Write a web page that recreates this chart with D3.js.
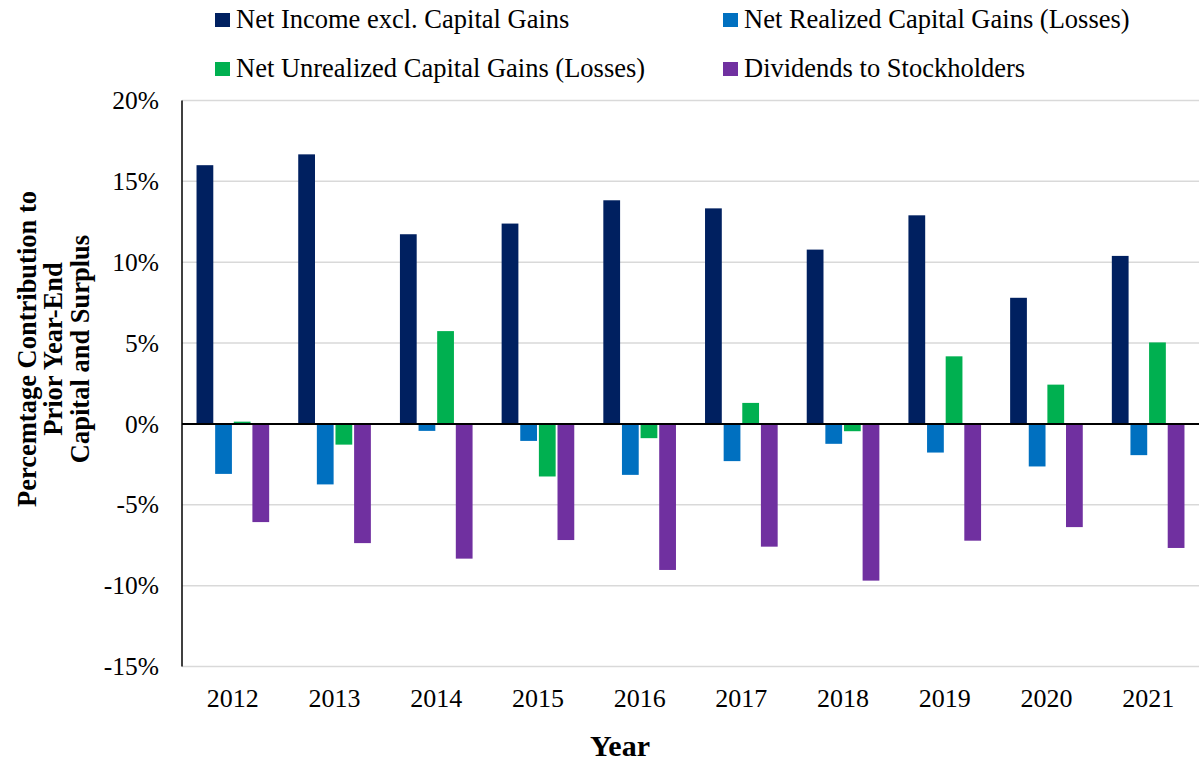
<!DOCTYPE html>
<html>
<head>
<meta charset="utf-8">
<script src="https://cdn.jsdelivr.net/npm/d3@7"></script>
<style>
  body { margin: 0; background: #fff; }
  text { font-family: "Liberation Serif", "Times New Roman", serif; fill: #000; }
</style>
</head>
<body>
<div class="canvas"></div>
<script>
// data (percent)
const years = ["2012", "2013", "2014", "2015", "2016", "2017", "2018", "2019", "2020", "2021"];
const seriesNames = [
  "Net Income excl. Capital Gains",
  "Net Realized Capital Gains (Losses)",
  "Net Unrealized Capital Gains (Losses)",
  "Dividends to Stockholders"
];
const seriesColors = ["#002060", "#0070C0", "#00B050", "#7030A0"];
const netIncome = [16.0, 16.67, 11.73, 12.39, 13.83, 13.33, 10.78, 12.9, 7.8, 10.39];
const realized = [-3.09, -3.74, -0.43, -1.05, -3.15, -2.3, -1.23, -1.77, -2.63, -1.93];
const unrealized = [0.14, -1.28, 5.74, -3.25, -0.88, 1.3, -0.45, 4.18, 2.43, 5.04];
const dividends = [-6.07, -7.37, -8.33, -7.18, -9.03, -7.59, -9.69, -7.22, -6.38, -7.67];
const yTicks = [20, 15, 10, 5, 0, -5, -10, -15];

const allSeries = [netIncome, realized, unrealized, dividends];

const width = 1199, height = 763;
const svg = d3.select(".canvas")
  .append("svg")
  .attr("width", width)
  .attr("height", height);

const plotLeft = 182, plotRight = 1199, plotTop = 100.5, plotBottom = 666.5;

const y = d3.scaleLinear().domain([-15, 20]).range([plotBottom, plotTop]);
const x0 = d3.scaleBand().domain(years).range([plotLeft, plotRight]);
const x1 = d3.scaleBand()
  .domain(d3.range(seriesNames.length))
  .range([0, x0.bandwidth()])
  .paddingInner(0.1)
  .paddingOuter(0.78);

// gridlines
svg.append("g")
  .selectAll("line")
  .data(yTicks)
  .enter()
  .append("line")
  .attr("x1", plotLeft)
  .attr("x2", plotRight)
  .attr("y1", d => y(d))
  .attr("y2", d => y(d))
  .attr("stroke", "#d9d9d9")
  .attr("stroke-width", 1.5);

// y axis
const yAxis = d3.axisLeft(y)
  .tickValues(yTicks)
  .tickSize(0)
  .tickPadding(23)
  .tickFormat(d => d + "%");
const yAxisGroup = svg.append("g")
  .attr("transform", `translate(${plotLeft},0)`)
  .call(yAxis);
yAxisGroup.select(".domain").remove();
yAxisGroup.selectAll("text")
  .attr("font-size", 25.5)
  .attr("font-family", "Liberation Serif")
  .attr("fill", "#000");

// bars
const groups = svg.append("g")
  .selectAll("g")
  .data(years)
  .enter()
  .append("g")
  .attr("transform", d => `translate(${x0(d)},0)`);

groups.selectAll("rect")
  .data((d, i) => allSeries.map((s, k) => ({ k: k, v: s[i] })))
  .enter()
  .append("rect")
  .attr("x", d => x1(d.k))
  .attr("width", x1.bandwidth())
  .attr("y", d => y(Math.max(0, d.v)))
  .attr("height", d => Math.abs(y(d.v) - y(0)))
  .attr("fill", d => seriesColors[d.k]);

// axis line on the left and zero line
svg.append("line")
  .attr("x1", plotLeft)
  .attr("x2", plotLeft)
  .attr("y1", plotTop)
  .attr("y2", plotBottom)
  .attr("stroke", "#000")
  .attr("stroke-width", 1.5);

svg.append("line")
  .attr("x1", plotLeft)
  .attr("x2", plotRight)
  .attr("y1", y(0))
  .attr("y2", y(0))
  .attr("stroke", "#000")
  .attr("stroke-width", 2);

// x axis labels
const xAxis = d3.axisBottom(x0).tickSize(0).tickPadding(22);
const xAxisGroup = svg.append("g")
  .attr("transform", `translate(0,${plotBottom})`)
  .call(xAxis);
xAxisGroup.select(".domain").remove();
xAxisGroup.selectAll("text")
  .attr("font-size", 26)
  .attr("font-family", "Liberation Serif")
  .attr("fill", "#000");

// axis titles
svg.append("text")
  .attr("x", 620)
  .attr("y", 756)
  .attr("text-anchor", "middle")
  .attr("font-size", 30)
  .attr("font-weight", "bold")
  .text("Year");

const yTitle = svg.append("text")
  .attr("transform", "translate(54,349) rotate(-90)")
  .attr("text-anchor", "middle")
  .attr("font-size", 26.5)
  .attr("font-weight", "bold");
const titleLines = ["Percemtage Contribution to", "Prior Year-End", "Capital and Surplus"];
titleLines.forEach((t, i) => {
  yTitle.append("tspan")
    .attr("x", 0)
    .attr("y", (i - 1) * 26.5 + 8)
    .text(t);
});

// legend
const legendPos = [[215, 13], [723, 13], [215, 62], [723, 62]];
const legend = svg.append("g")
  .selectAll("g")
  .data(seriesNames)
  .enter()
  .append("g")
  .attr("transform", (d, i) => `translate(${legendPos[i][0]},${legendPos[i][1]})`);
legend.append("rect")
  .attr("width", 15)
  .attr("height", 14)
  .attr("fill", (d, i) => seriesColors[i]);
legend.append("text")
  .attr("x", 21)
  .attr("y", 15)
  .attr("font-size", 26.5)
  .text(d => d);
</script>
</body>
</html>
